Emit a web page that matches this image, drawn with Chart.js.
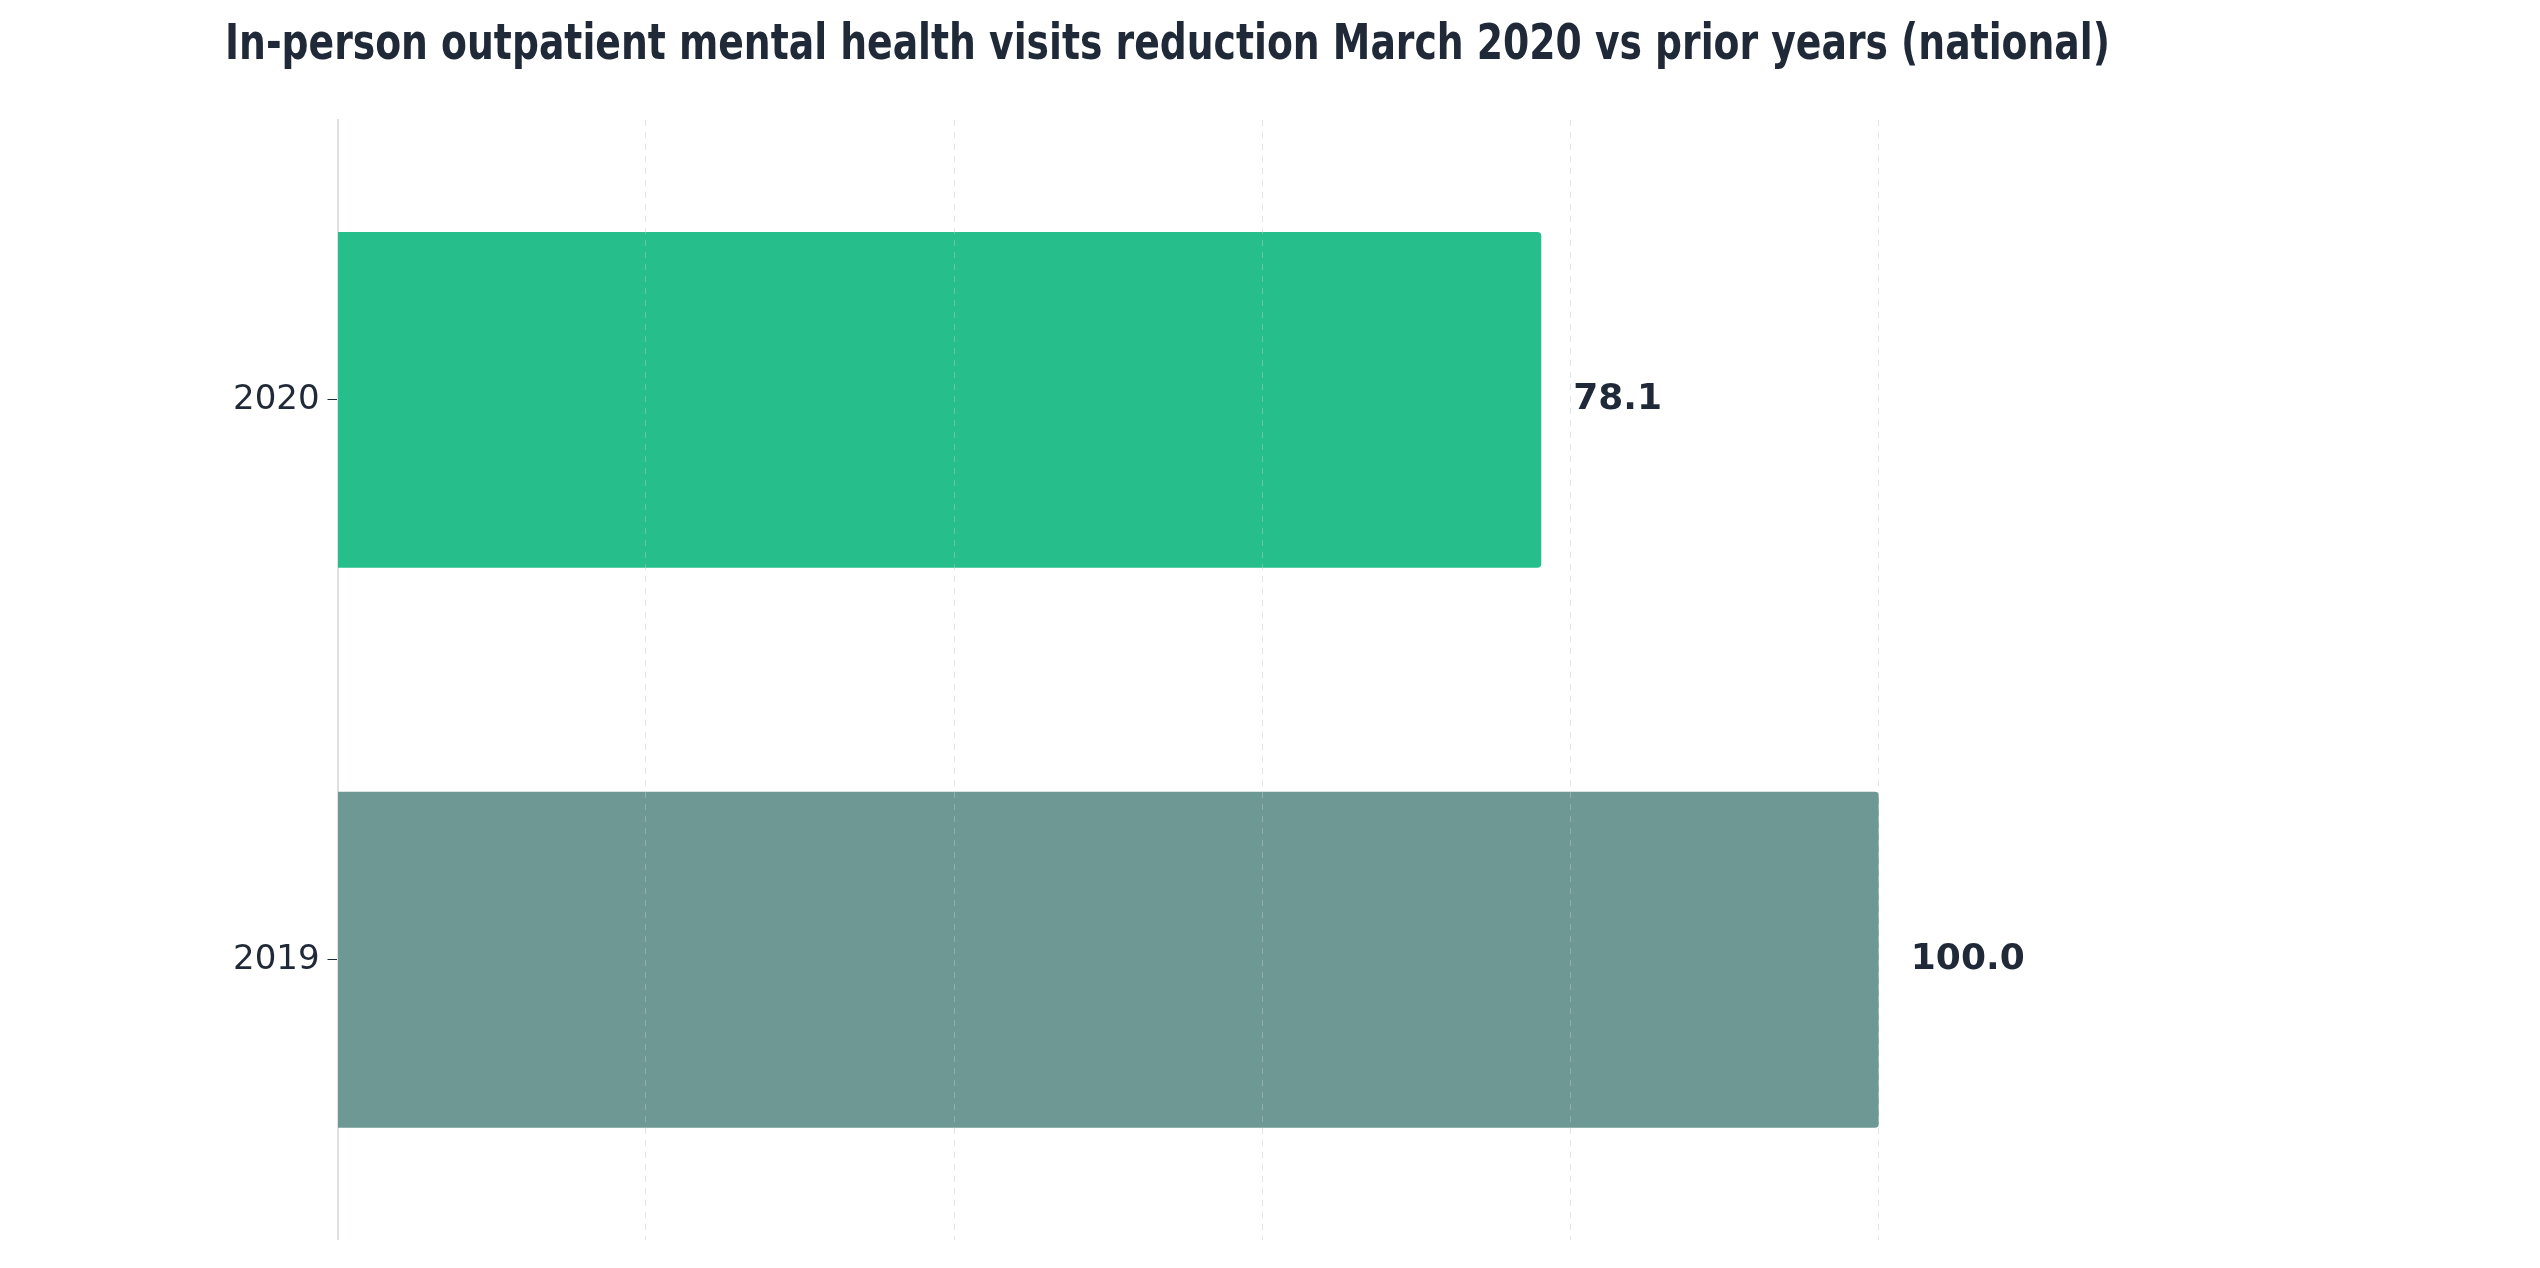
<!DOCTYPE html>
<html><head><meta charset="utf-8">
<script src="https://cdn.jsdelivr.net/npm/chart.js@4"></script>
<style>html,body{margin:0;padding:0;background:#fff}#w{width:2540px;height:1268px}</style>
</head><body><div id="w"><canvas id="c"></canvas></div>
<script>
const categories = ["2020", "2019"];
const values = [78.1, 100.0];
const barColors = ["#26BF8C", "#6E9893"];
const title = "In-person outpatient mental health visits reduction March 2020 vs prior years (national)";

const valueLabels = {
  id: 'valueLabels',
  afterDatasetsDraw(chart) {
    const ctx = chart.ctx;
    const meta = chart.getDatasetMeta(0);
    ctx.save();
    ctx.font = 'bold 36px "DejaVu Sans"';
    ctx.fillStyle = '#1f2937';
    ctx.textBaseline = 'middle';
    meta.data.forEach((bar, i) => {
      ctx.fillText(values[i].toFixed(1), bar.x + 32, bar.y);
    });
    ctx.restore();
  }
};

new Chart(document.getElementById('c'), {
  type: 'bar',
  data: { labels: categories, datasets: [{ data: values, backgroundColor: barColors,
    borderRadius: 4, borderSkipped: 'start', categoryPercentage: 0.6, barPercentage: 1 }] },
  options: {
    indexAxis: 'y', responsive: true, maintainAspectRatio: false, animation: false,
    layout: { padding: { left: 225, right: 430, top: 0, bottom: 18 } },
    plugins: {
      legend: { display: false }, tooltip: { enabled: false },
      title: { display: true, text: title, color: '#1f2937',
        font: { family: '"DejaVu Sans"', size: 50, weight: 'bold' }, padding: { top: 16, bottom: 44 } }
    },
    scales: {
      x: { min: 0, max: 115, ticks: { display: false, stepSize: 20 },
        border: { display: false, dash: [6, 6] },
        grid: { color: (c) => (c.tick && c.tick.value > 0 && c.tick.value % 20 === 0) ? 'rgba(190,200,205,0.45)' : 'rgba(0,0,0,0)',
          drawTicks: false, z: 1 },
      },
      y: { border: { display: true, color: '#dde1e6', width: 2 },
        grid: { display: true, offset: false, drawOnChartArea: false, drawTicks: true, tickLength: 10, color: '#1f2937' },
        ticks: { color: '#1f2937', font: { family: '"DejaVu Sans"', size: 34 }, padding: 8 } }
    }
  },
  plugins: [valueLabels]
});
</script></body></html>
